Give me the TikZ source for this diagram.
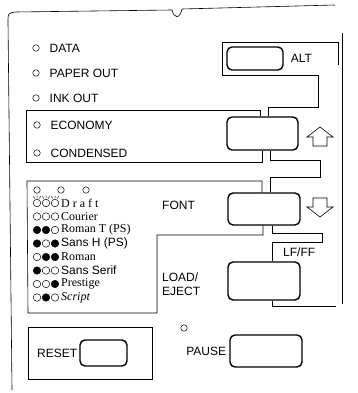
\documentclass[tikz,border=0pt]{standalone}
\usepackage{fontspec}
\setmainfont{Liberation Serif}
\setsansfont{Liberation Sans}
\usetikzlibrary{positioning}

\begin{document}
\begin{tikzpicture}[x=1pt, y=-1pt,
  frame/.style={line width=0.6pt},
  key/.style={draw, line width=1.4pt, rounded corners=5pt, inner sep=0pt},
  lamp/.style={circle, draw, line width=0.5pt, minimum size=6.5pt, inner sep=0pt},
  dot/.style={circle, draw, line width=0.5pt, minimum size=7.5pt, inner sep=0pt},
  lbl/.style={font=\sffamily\fontsize{12}{14}\selectfont, inner sep=0pt, anchor=west},
  fnt/.style={font=\fontsize{12}{13}\selectfont, inner sep=0pt, anchor=west},
  blockarrow/.style={draw, line width=0.6pt, line join=miter}]
  \useasboundingbox (0,0) rectangle (357,393);

  % Housing
  \draw[frame] (12,390) -- (8,22) .. controls (8,13) .. (16,12) -- (172,10)
    .. controls (174,19) and (180,19) .. (182,9) -- (335,5);
  \draw[frame] (342,33) -- (342,304);

  % Keys
  \node[key, minimum width=56pt, minimum height=23pt] (alt) at (255,58.5) {};
  \node[key, minimum width=71pt, minimum height=33pt] (up) at (262.5,133.5) {};
  \node[key, minimum width=72pt, minimum height=32pt] (font) at (264,209) {};
  \node[key, minimum width=72pt, minimum height=38pt] (lfff) at (264,281) {};
  \node[key, minimum width=72pt, minimum height=32pt] (pause) at (266,351) {};
  \node[key, minimum width=47pt, minimum height=26pt] (reset) at (103.5,353) {};

  % Key labels
  \node[lbl, right=7pt of alt] (altlbl) {ALT};
  \node[lbl] (lffflbl) at (283,252) {LF/FF};
  \node[lbl] (fontlbl) at (162,205) {FONT};
  \node[lbl, align=left] (loadlbl) at (162,284) {LOAD/\\EJECT};
  \node[lbl, left=3pt of pause] (pauselbl) {PAUSE};
  \node[lbl, left=2pt of reset] (resetlbl) {RESET};
  \node[lamp] (pauseled) at (184,328) {};

  % Outlines between keys
  \draw[frame] (338,65) -- (338,42) -- (222,42) -- (222,75) -- (318,75)
    -- (318,107) -- (268,107) -- (268,107 |- up.north);
  \draw[frame] (260,110 |- up.north) -- (260,110) -- (26,110) -- (26,162)
    -- (262,162) -- (262,162 |- up.south);
  \draw[frame] (270,150 |- up.south) -- (270,160) -- (320,160) -- (320,177)
    -- (270,177) -- (270,177 |- font.north);
  \draw[frame] (262,181 |- font.north) -- (262,181) -- (27,181) -- (28,313)
    -- (157,313) -- (157,235) -- (263,235) -- (263,235 |- font.south);
  \draw[frame] (272,233 |- font.south) -- (272,233) -- (322,233) -- (322,242)
    -- (272,242) -- (272,242 |- lfff.north);
  \draw[frame] (272,306 |- lfff.south) -- (272,306) -- (336,306);
  \draw[frame] (28,327) rectangle (152,379);

  % Arrows
  \draw[blockarrow] (313,146) -- (313,137) -- (307,137) -- (320,127)
    -- (333,137) -- (327,137) -- (327,146) -- cycle;
  \draw[blockarrow] (313,198) -- (327,198) -- (327,207) -- (333,207)
    -- (320,217) -- (307,207) -- (313,207) -- cycle;

  % Status lamps
  \foreach \y/\txt [count=\i] in {48/DATA, 73/PAPER OUT, 98/INK OUT} {
    \node[lamp] (led\i) at (36,\y) {};
    \node[lbl, right=10pt of led\i] (ledlbl\i) {\txt};
  }
  \foreach \y/\txt [count=\i] in {125/ECONOMY, 153/CONDENSED} {
    \node[lamp] (mode\i) at (37,\y) {};
    \node[lbl, right=10pt of mode\i] (modelbl\i) {\txt};
  }

  % Font selection lamps
  \foreach \x [count=\i] in {37,61,86}
    \node[lamp] (fled\i) at (\x,190) {};
  \foreach \x [count=\i] in {37,46,55} {
    \node[dot] (draft\i) at (\x,203) {};
    \draw[line width=0.5pt] (\x-2.5,198.5) -- (\x-3.5,196) (\x,198) -- (\x,195.5)
      (\x+2.5,198.5) -- (\x+3.5,196);
  }
  \node[fnt] (draftlbl) at (61,203) {\addfontfeature{LetterSpace=25}Draft};
  \foreach \y/\a/\b/\c/\name [count=\i] in {
      216.5/white/white/white/Courier,
      230/black/black/white/Roman T (PS),
      243.5/black/white/black/{\sffamily Sans H (PS)},
      257/white/black/black/Roman,
      270.5/black/white/white/{\sffamily Sans Serif},
      284/white/white/black/Prestige,
      297.5/white/black/white/{\itshape Script}} {
    \node[dot, fill=\a] (fa\i) at (37,\y) {};
    \node[dot, fill=\b] (fb\i) at (46,\y) {};
    \node[dot, fill=\c] (fc\i) at (55,\y) {};
    \node[fnt] (fname\i) at (61,\y) {\name};
  }
\end{tikzpicture}
\end{document}
